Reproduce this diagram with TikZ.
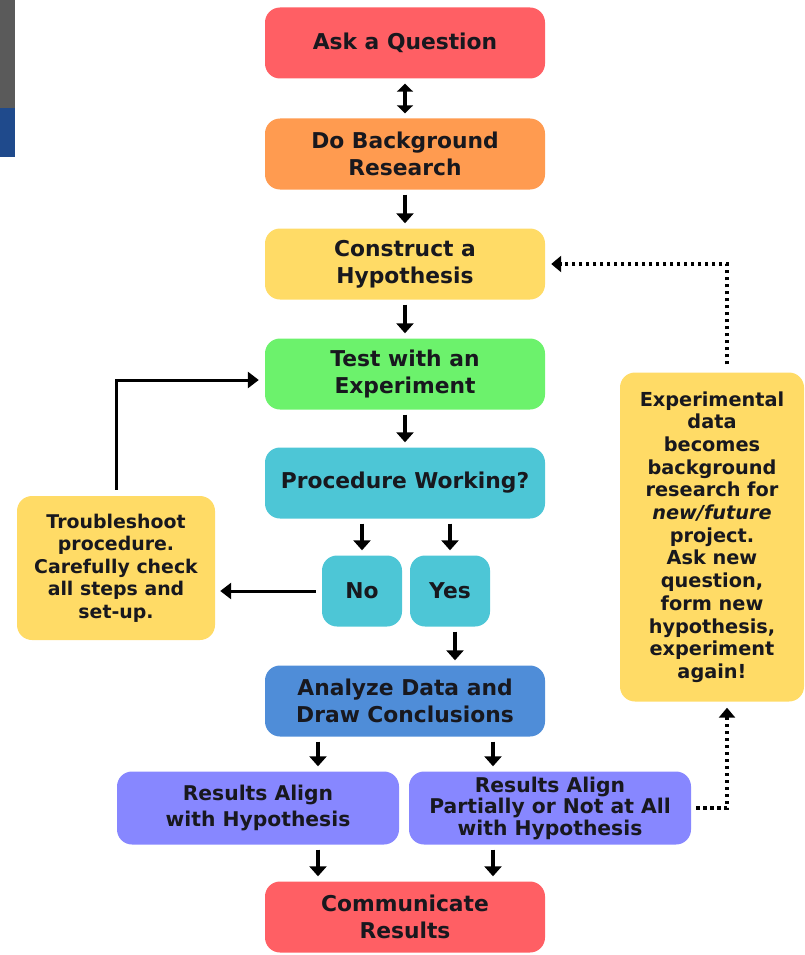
\documentclass[tikz,border=0pt]{standalone}
\usepackage{fontspec}
\setmainfont{DejaVu Sans}
\usetikzlibrary{arrows.meta}
\definecolor{cred}{HTML}{FF5F64}
\definecolor{corange}{HTML}{FF9B50}
\definecolor{cyellow}{HTML}{FFDB66}
\definecolor{cgreen}{HTML}{6CF26C}
\definecolor{ccyan}{HTML}{4DC6D6}
\definecolor{cblue}{HTML}{4F8DD8}
\definecolor{cperi}{HTML}{8787FF}
\definecolor{ctext}{HTML}{18181E}
\definecolor{cgray}{HTML}{5A5A5A}
\definecolor{cnavy}{HTML}{1F4A8C}
\tikzset{
  box/.style={rounded corners=15pt, inner sep=0pt, align=center, text=ctext,
    font=\fontsize{21.8}{27}\selectfont\bfseries},
  mainbox/.style={box, minimum width=280pt, minimum height=71pt},
  resbox/.style={box, minimum width=282pt, minimum height=73pt, fill=cperi},
  sidebox/.style={box, font=\fontsize{18.9}{22.6}\selectfont\bfseries, fill=cyellow},
  arr/.style={line width=3.2pt, -{Triangle[length=10pt,width=17pt]}, shorten >=5pt, shorten <=5pt},
  darr/.style={line width=3.2pt, {Triangle[length=8pt,width=16pt]}-{Triangle[length=8pt,width=16pt]}, shorten >=5pt, shorten <=5pt},
  dotarr/.style={line width=3.3pt, dash pattern=on 3.3pt off 3.7pt, -{Triangle[length=10pt,width=16pt]}},
  plainarr/.style={line width=3pt, -{Triangle[length=11pt,width=16pt]}}
}
\begin{document}
\begin{tikzpicture}[x=1pt,y=-1pt]
\useasboundingbox (0,0) rectangle (805,955);
% corner artifact
\fill[cgray] (0,0) rectangle (15,108);
\fill[cnavy] (0,108) rectangle (15,157);

\node[mainbox, fill=cred] (ask) at (405,43) {Ask a Question};
\node[mainbox, fill=corange] (bg) at (405,154) {Do Background\\Research};
\node[mainbox, fill=cyellow] (hyp) at (405,264) {Construct a\\Hypothesis};
\node[mainbox, fill=cgreen] (test) at (405,374) {Test with an\\Experiment};
\node[mainbox, fill=ccyan] (proc) at (405,483) {Procedure Working?};
\node[box, fill=ccyan, minimum width=80pt, minimum height=71pt] (no) at (362,591) {No};
\node[box, fill=ccyan, minimum width=80pt, minimum height=71pt] (yes) at (450,591) {Yes};
\node[mainbox, fill=cblue] (ana) at (405,701) {Analyze Data and\\Draw Conclusions};
\node[resbox, font=\fontsize{20.3}{25.5}\selectfont\bfseries] (resL) at (258,808) {Results Align\\with Hypothesis};
\node[resbox, font=\fontsize{20.3}{21.5}\selectfont\bfseries] (resR) at (550,808) {Results Align\\Partially or Not at All\\with Hypothesis};
\node[mainbox, fill=cred] (comm) at (405,917) {Communicate\\Results};
\node[sidebox, minimum width=198pt, minimum height=144pt] (trouble) at (116,568)
  {Troubleshoot\\procedure.\\Carefully check\\all steps and\\set-up.};
\node[sidebox, minimum width=184pt, minimum height=329pt, font=\fontsize{19.3}{22.7}\selectfont\bfseries] (exp) at (712,537)
  {Experimental\\data\\becomes\\background\\research for\\\textit{new/future}\\project.\\Ask new\\question,\\form new\\hypothesis,\\experiment\\again!};

\draw[darr] (ask.south) -- (bg.north);
\draw[arr] (bg.south) -- (hyp.north);
\draw[arr] (hyp.south) -- (test.north);
\draw[arr] (test.south) -- (proc.north);
\draw[arr] (proc.south -| no) -- (no.north);
\draw[arr] (proc.south -| yes) -- (yes.north);
\draw[arr] ([xshift=5pt]yes.south) -- ([xshift=5pt]yes.south |- ana.north);
\draw[arr] ([xshift=-87pt]ana.south) -- ([xshift=-87pt]ana.south |- resL.north);
\draw[arr] ([xshift=88pt]ana.south) -- ([xshift=88pt]ana.south |- resR.north);
\draw[arr] ([xshift=-87pt]comm.north |- resL.south) -- ([xshift=-87pt]comm.north);
\draw[arr] ([xshift=88pt]comm.north |- resR.south) -- ([xshift=88pt]comm.north);
\draw[plainarr, shorten >=5pt] ([xshift=-6pt]no.west) -- (no.west -| trouble.east);
\draw[plainarr, shorten >=6pt, shorten <=6pt] (trouble.north) |- ([yshift=-6pt]test.west);
\draw[dotarr, shorten <=5pt, shorten >=6pt] (resR.east) -| ([xshift=15pt]exp.south);
\draw[dotarr, shorten <=8pt, shorten >=6pt] ([xshift=15pt]exp.north) |- (hyp.east);
\end{tikzpicture}
\end{document}
